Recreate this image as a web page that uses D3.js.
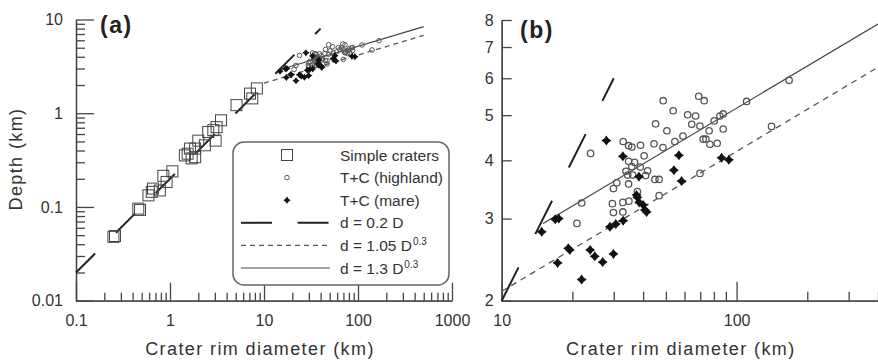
<!DOCTYPE html>
<html>
<head>
<meta charset="utf-8">
<script src="https://cdn.jsdelivr.net/npm/d3@7"></script>
<style>
  body { margin: 0; background: #fff; }
  svg { display: block; font-family: Arial, "Liberation Sans", sans-serif; }
</style>
</head>
<body>
<svg id="chart" width="878" height="360"></svg>
<script>
// [rim diameter D (km), depth d (km)]
var simpleCraters = [
  [0.25, 0.048], [0.26, 0.049], [0.46, 0.096], [0.48, 0.093], [0.59, 0.133],
  [0.64, 0.145], [0.66, 0.157], [0.78, 0.15], [0.85, 0.215], [0.92, 0.185],
  [1.06, 0.24], [1.44, 0.355], [1.54, 0.37], [1.63, 0.42], [1.70, 0.33],
  [1.85, 0.42], [1.85, 0.34], [2.0, 0.51], [2.35, 0.455], [2.55, 0.63],
  [2.89, 0.66], [3.06, 0.51], [3.13, 0.71], [3.49, 0.84], [5.1, 1.22],
  [7.1, 1.62], [7.5, 1.44], [8.4, 1.84]
];

var highland = [
  [48.7, 5.37], [53.7, 5.11], [61.9, 5.01], [66.9, 4.98], [45.2, 4.79],
  [50.5, 4.63], [64.4, 4.78], [59.1, 4.51], [54.6, 4.39], [44.5, 4.34],
  [48.6, 4.26], [39.0, 4.31], [32.9, 4.39], [34.7, 4.30], [35.8, 4.27],
  [23.9, 4.14], [40.4, 4.09], [34.7, 3.98], [36.8, 3.96], [35.8, 3.88],
  [38.9, 3.87], [33.8, 3.79], [41.8, 3.80], [34.4, 3.72], [36.1, 3.72],
  [41.0, 3.71], [44.9, 3.64], [46.8, 3.64], [30.9, 3.58], [34.7, 3.56],
  [29.9, 3.48], [37.8, 3.43], [46.8, 3.36], [21.9, 3.24], [29.6, 3.23],
  [32.8, 3.25], [34.8, 3.27], [29.9, 3.09], [32.8, 3.10], [69.0, 5.49],
  [72.8, 5.37], [167.4, 5.94], [110.3, 5.35], [69.8, 4.74], [80.3, 4.86],
  [84.9, 4.98], [87.7, 5.03], [76.4, 4.63], [87.7, 4.67], [72.1, 4.44],
  [74.0, 4.44], [77.0, 4.33], [82.7, 4.35], [140.9, 4.73], [69.8, 3.75],
  [20.9, 2.93]
];

var mare = [
  [27.9, 4.41], [32.8, 4.08], [38.4, 3.69], [56.8, 4.10], [54.1, 3.81],
  [58.3, 3.61], [37.8, 3.33], [38.5, 3.25], [40.0, 3.21], [41.4, 3.10],
  [86.3, 4.05], [92.7, 4.01], [14.8, 2.81], [16.9, 2.99], [17.5, 3.00],
  [17.3, 2.41], [19.2, 2.59], [19.5, 2.57], [21.9, 2.22], [23.8, 2.57],
  [24.9, 2.49], [26.9, 2.42], [29.9, 2.52], [28.9, 2.88], [30.6, 2.92],
  [32.9, 2.97], [37.5, 3.37], [40.7, 3.13]
];

// d = coef * D ^ expo
var fitCoef = [0.2, 1.05, 1.3];
var fitExpo = [1, 0.3, 0.3];
var fitRangeA = [[0.1, 40], [10, 500], [15, 500]];
var fitRangeB = [[10, 30], [10, 400], [15, 400]];

var aXTicks = [0.1, 1, 10, 100, 1000];
var aYTicks = [0.01, 0.1, 1, 10];
var bXTicks = [10, 100];
var bYTicks = [2, 3, 4, 5, 6, 7, 8];

var legendLabels = ["Simple craters", "T+C (highland)", "T+C (mare)", "d = 0.2 D", "d = 1.05 D", "d = 1.3 D"];
var legendSup = ["", "", "", "", "0.3", "0.3"];

var svg = d3.select("#chart");
var ink = "#333";

var minorTicks = function (lo, hi) {
  var out = [];
  for (var e = Math.floor(Math.log10(lo)); e <= Math.ceil(Math.log10(hi)); e++) {
    for (var m = 2; m <= 9; m++) {
      var v = m * Math.pow(10, e);
      if (v > lo && v < hi) out.push(v);
    }
  }
  return out;
};

var starPath = function (s) {
  var w = s * 0.42;
  return "M0," + (-s) + "L" + w + "," + (-w) + "L" + s + ",0L" + w + "," + w +
    "L0," + s + "L" + (-w) + "," + w + "L" + (-s) + ",0L" + (-w) + "," + (-w) + "Z";
};

var fitStyles = [
  { stroke: "#222", width: 2, dashA: "27,29.3", dashB: "37.3,37.3" },
  { stroke: "#555", width: 1.3, dashA: "5,4", dashB: "6,5" },
  { stroke: "#444", width: 1.2, dashA: null, dashB: null }
];

function drawPanel(cfg) {
  var x = d3.scaleLog().domain(cfg.xDomain).range(cfg.xRange);
  var y = d3.scaleLog().domain(cfg.yDomain).range(cfg.yRange);
  var g = svg.append("g");

  // axes
  var xMinor = d3.axisBottom(x).tickValues(cfg.xMinor).tickSizeInner(-cfg.minorLen).tickSizeOuter(0).tickFormat("");
  var xMajor = d3.axisBottom(x).tickValues(cfg.xTicks).tickSizeInner(-cfg.majorLen).tickSizeOuter(0)
    .tickPadding(14).tickFormat(function (d) { return d3.format("~g")(d); });
  var yMinor = d3.axisLeft(y).tickValues(cfg.yMinor).tickSizeInner(-cfg.yMinorLen).tickSizeOuter(0).tickFormat("");
  var yMajor = d3.axisLeft(y).tickValues(cfg.yTicks).tickSizeInner(-cfg.yMajorLen).tickSizeOuter(0)
    .tickPadding(cfg.yPad).tickFormat(function (d) { return d3.format("~g")(d); });

  var axes = [
    g.append("g").attr("transform", "translate(0," + cfg.yRange[0] + ")").call(xMinor),
    g.append("g").attr("transform", "translate(0," + cfg.yRange[0] + ")").call(xMajor),
    g.append("g").attr("transform", "translate(" + cfg.xRange[0] + ",0)").call(yMinor),
    g.append("g").attr("transform", "translate(" + cfg.xRange[0] + ",0)").call(yMajor)
  ];
  axes.forEach(function (a) {
    a.selectAll("path, line").attr("stroke", "#444").attr("stroke-width", 1.3);
    a.selectAll("text").attr("fill", ink).attr("font-size", 16).attr("font-family", "Arial, 'Liberation Sans', sans-serif");
  });

  // fitted lines
  fitCoef.forEach(function (c, i) {
    var r = cfg.fitRange[i];
    var pts = r.map(function (D) { return [D, c * Math.pow(D, fitExpo[i])]; });
    g.append("path")
      .attr("d", d3.line().x(function (p) { return x(p[0]); }).y(function (p) { return y(p[1]); })(pts))
      .attr("fill", "none")
      .attr("stroke", fitStyles[i].stroke)
      .attr("stroke-width", fitStyles[i].width)
      .attr("stroke-dasharray", cfg.dash[i]);
  });

  // points
  if (cfg.showSimple) {
    g.selectAll(".sq").data(simpleCraters).enter().append("rect")
      .attr("x", function (p) { return x(p[0]) - 5.5; })
      .attr("y", function (p) { return y(p[1]) - 5.5; })
      .attr("width", 11).attr("height", 11)
      .attr("fill", "none").attr("stroke", "#444").attr("stroke-width", 1);
  }
  g.selectAll(".hl").data(highland).enter().append("circle")
    .attr("cx", function (p) { return x(p[0]); })
    .attr("cy", function (p) { return y(p[1]); })
    .attr("r", cfg.circleR)
    .attr("fill", "none").attr("stroke", "#555").attr("stroke-width", cfg.circleW);
  g.selectAll(".mr").data(mare).enter().append("path")
    .attr("d", starPath(cfg.starS))
    .attr("transform", function (p) { return "translate(" + x(p[0]) + "," + y(p[1]) + ")"; })
    .attr("fill", "#111");

  // panel tag
  g.append("text").attr("x", cfg.tagX).attr("y", cfg.tagY)
    .attr("font-size", 23).attr("font-weight", "bold").attr("letter-spacing", 1.5)
    .attr("fill", "#222").text(cfg.tag);

  // x title
  g.append("text")
    .attr("x", (cfg.xRange[0] + cfg.xRange[1]) / 2 + cfg.titleShift).attr("y", 355)
    .attr("text-anchor", "middle").attr("font-size", 18).attr("letter-spacing", 1.4)
    .attr("fill", ink).text("Crater rim diameter (km)");

  return { x: x, y: y, g: g };
}

var a = drawPanel({
  xDomain: [0.1, 1000], xRange: [76, 452],
  yDomain: [0.01, 10], yRange: [300.7, 19.5],
  xTicks: aXTicks, yTicks: aYTicks,
  xMinor: minorTicks(0.1, 1000), yMinor: minorTicks(0.01, 10),
  majorLen: 18, minorLen: 8, yMajorLen: 18, yMinorLen: 9, yPad: 13,
  fitRange: fitRangeA, dash: fitStyles.map(function (s) { return s.dashA; }),
  showSimple: true, circleR: 2.3, circleW: 1, starS: 3.6,
  tag: "(a)", tagX: 100, tagY: 33, titleShift: -4
});

var b = drawPanel({
  xDomain: [10, 400], xRange: [501.7, 878],
  yDomain: [2, 8], yRange: [300.7, 20],
  xTicks: bXTicks, yTicks: bYTicks,
  xMinor: minorTicks(10, 400).concat([400]), yMinor: [],
  majorLen: 19, minorLen: 9, yMajorLen: 10, yMinorLen: 10, yPad: 8,
  fitRange: fitRangeB, dash: fitStyles.map(function (s) { return s.dashB; }),
  showSimple: false, circleR: 3.2, circleW: 1.3, starS: 5,
  tag: "(b)", tagX: 520, tagY: 38, titleShift: -9
});

// y title (panel a)
svg.append("text")
  .attr("transform", "translate(22,159) rotate(-90)")
  .attr("text-anchor", "middle").attr("font-size", 18).attr("letter-spacing", 1.4)
  .attr("fill", ink).text("Depth (km)");

// legend
var lg = svg.append("g");
lg.append("rect").attr("x", 233).attr("y", 142).attr("width", 216).attr("height", 143)
  .attr("rx", 11).attr("fill", "#fff").attr("stroke", "#666").attr("stroke-width", 1.5);

legendLabels.forEach(function (lab, i) {
  var cy = 155 + i * 22.6;
  if (i === 0) {
    lg.append("rect").attr("x", 281.5).attr("y", cy - 5.5).attr("width", 11).attr("height", 11)
      .attr("fill", "none").attr("stroke", "#444").attr("stroke-width", 1);
  } else if (i === 1) {
    lg.append("circle").attr("cx", 287).attr("cy", cy).attr("r", 2.3)
      .attr("fill", "none").attr("stroke", "#555").attr("stroke-width", 1);
  } else if (i === 2) {
    lg.append("path").attr("d", starPath(3.6)).attr("transform", "translate(287," + cy + ")").attr("fill", "#111");
  } else {
    var st = fitStyles[i - 3];
    lg.append("line").attr("x1", 241).attr("x2", 330).attr("y1", cy).attr("y2", cy)
      .attr("stroke", st.stroke).attr("stroke-width", st.width)
      .attr("stroke-dasharray", i === 3 ? "31,25.6" : st.dashA);
  }
  var t = lg.append("text").attr("x", 340).attr("y", cy + 5.5)
    .attr("font-size", 15.5).attr("fill", ink).text(lab);
  if (legendSup[i]) {
    t.append("tspan").attr("font-size", 10).attr("dy", -6).attr("dx", 1).text(legendSup[i]);
  }
});
</script>
</body>
</html>
